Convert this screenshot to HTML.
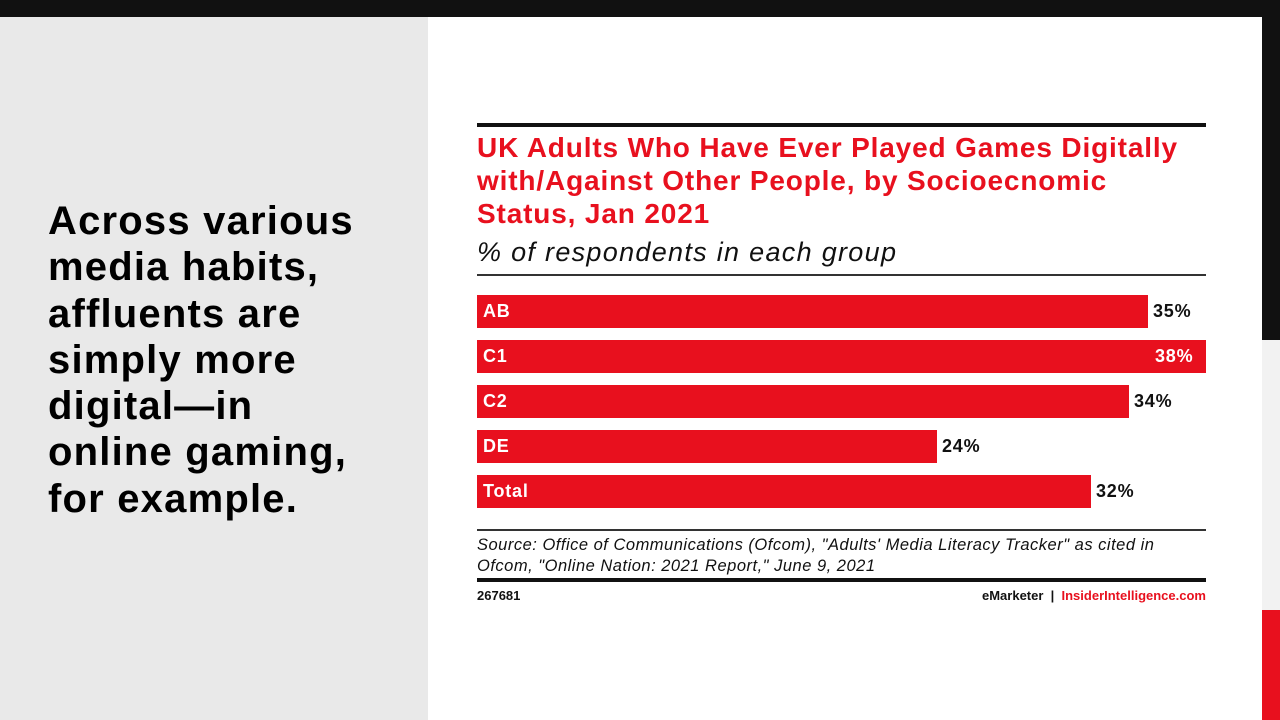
<!DOCTYPE html>
<html><head><style>
*{margin:0;padding:0}
body{width:1280px;height:720px;position:relative;overflow:hidden;background:#fff;font-family:"Liberation Sans",Arial,sans-serif}
div{position:absolute}
.bar{left:477px;height:33px;background:#e8101e;color:#fff;font-weight:bold;font-size:18px;line-height:33px;padding-left:6px;box-sizing:border-box;letter-spacing:0.8px}
.val{font-weight:bold;font-size:18px;line-height:33px;color:#111;letter-spacing:0.8px}
</style></head><body>
<div style="left:0;top:0;width:1280px;height:17px;background:#111"></div>
<div style="left:0;top:17px;width:428px;height:703px;background:#e9e9e9"></div>
<div style="left:1262px;top:0;width:18px;height:340px;background:#111"></div>
<div style="left:1262px;top:340px;width:18px;height:270px;background:#f2f2f2"></div>
<div style="left:1262px;top:610px;width:18px;height:110px;background:#e8101e"></div>
<div style="left:48px;top:198px;width:330px;font-weight:bold;font-size:40px;line-height:46.3px;color:#000;letter-spacing:1.2px">Across various media habits, affluents are simply more digital—in online gaming, for example.</div>

<div style="left:477px;top:123px;width:729px;height:4px;background:#111"></div>
<div style="left:477px;top:131px;width:712px;color:#e8101e;font-weight:bold;font-size:28px;line-height:33px;letter-spacing:0.85px">UK Adults Who Have Ever Played Games Digitally with/Against Other People, by Socioecnomic Status, Jan 2021</div>
<div style="left:477px;top:235px;font-style:italic;font-size:27px;line-height:34px;color:#111;letter-spacing:1.3px">% of respondents in each group</div>
<div style="left:477px;top:274px;width:729px;height:2px;background:#333"></div>

<div class="bar" style="top:295px;width:671px">AB</div><div class="val" style="left:1153px;top:295px">35%</div>
<div class="bar" style="top:340px;width:729px">C1</div><div class="val" style="left:1155px;top:340px;color:#fff">38%</div>
<div class="bar" style="top:385px;width:652px">C2</div><div class="val" style="left:1134px;top:385px">34%</div>
<div class="bar" style="top:430px;width:460px">DE</div><div class="val" style="left:942px;top:430px">24%</div>
<div class="bar" style="top:475px;width:614px">Total</div><div class="val" style="left:1096px;top:475px">32%</div>

<div style="left:477px;top:529px;width:729px;height:2px;background:#333"></div>
<div style="left:477px;top:535px;width:700px;font-style:italic;font-size:16.5px;line-height:21px;color:#111;letter-spacing:0.5px">Source: Office of Communications (Ofcom), "Adults' Media Literacy Tracker" as cited in Ofcom, "Online Nation: 2021 Report," June 9, 2021</div>
<div style="left:477px;top:578px;width:729px;height:4px;background:#111"></div>
<div style="left:477px;top:588px;font-weight:bold;font-size:13px;line-height:16px;color:#111">267681</div>
<div style="left:900px;top:588px;width:306px;text-align:right;font-weight:bold;font-size:13px;line-height:16px;color:#111">eMarketer &nbsp;|&nbsp; <span style="color:#e8101e">InsiderIntelligence.com</span></div>
</body></html>
